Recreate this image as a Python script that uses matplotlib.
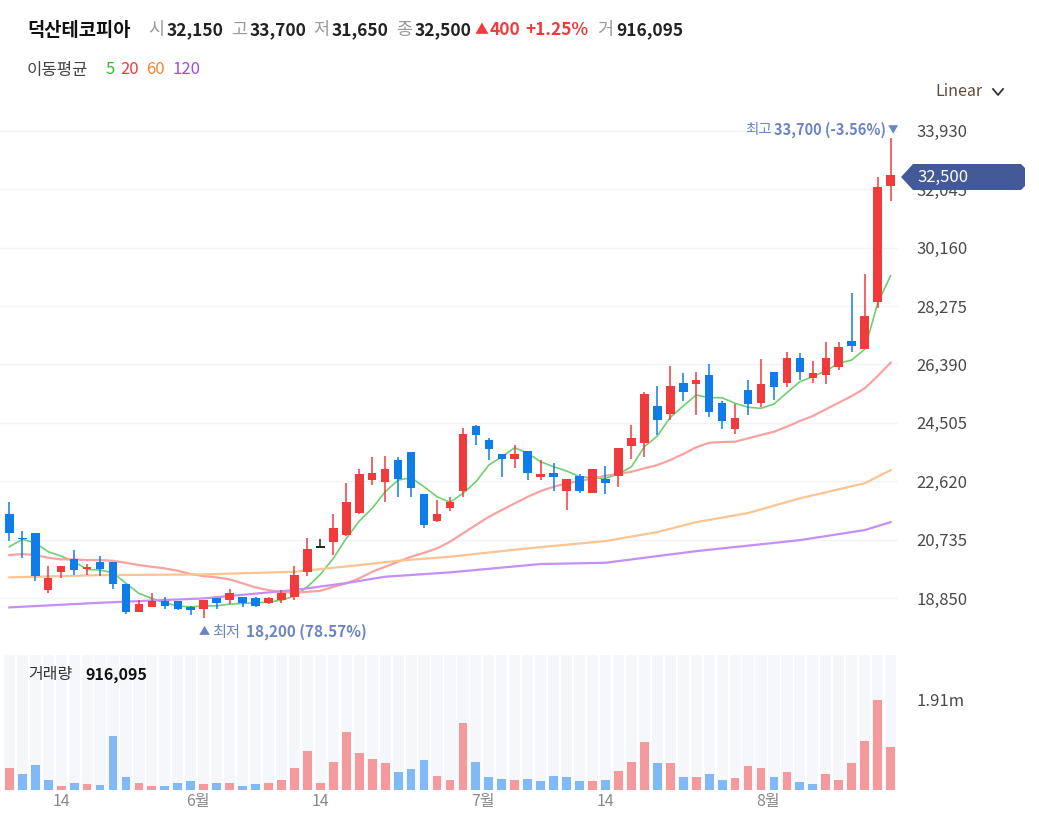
import matplotlib
matplotlib.use('Agg')
import matplotlib.pyplot as plt
import numpy as np
from matplotlib.patches import Polygon
from matplotlib.lines import Line2D
from matplotlib.transforms import ScaledTranslation

plt.rcParams['font.family'] = ['Noto Sans CJK KR', 'DejaVu Sans']

stock_name = '덕산테코피아'

# 일봉 데이터
opens = [21550, 20800, 20950, 19100, 19700, 20100, 19800, 20000, 20000, 19300,
         18400, 18550, 18750, 18750, 18550, 18500, 18850, 18800, 18900, 18850,
         18700, 18800, 18900, 19700, 20500, 20650, 20900, 21600, 22650, 22600,
         23300, 23550, 22200, 21350, 21750, 22300, 24400, 23950, 23500, 23350,
         23600, 22750, 22900, 22300, 22800, 22250, 22700, 22800, 23750, 23850,
         25050, 24800, 25800, 25750, 26050, 25150, 24300, 25550, 25150, 26150,
         25800, 26600, 25950, 26050, 26300, 27150, 26900, 28400, 32150]
highs = [21950, 21000, 20950, 19900, 19900, 20400, 19950, 20200, 20000, 19300,
         18800, 19000, 18900, 18750, 18600, 18800, 18850, 19150, 18900, 18900,
         18900, 19100, 19900, 20800, 20750, 21550, 22550, 23000, 23400, 23450,
         23400, 23550, 22200, 22000, 22100, 24350, 24450, 24000, 23500, 23800,
         23600, 23300, 23200, 22700, 22850, 23000, 23100, 23700, 24450, 25500,
         25700, 26350, 26100, 26150, 26400, 25200, 25100, 25900, 26550, 26150,
         26800, 26750, 26500, 27100, 27100, 28700, 29300, 32450, 33700]
lows = [20700, 20150, 19400, 19000, 19500, 19600, 19600, 19550, 19150, 18350,
        18400, 18550, 18500, 18450, 18300, 18200, 18500, 18650, 18550, 18550,
        18650, 18700, 18800, 19550, 20500, 20250, 20850, 21550, 22500, 21950,
        22100, 22100, 21100, 21300, 21650, 22100, 23800, 23300, 22750, 23050,
        22650, 22650, 22300, 21700, 22250, 22250, 22200, 22450, 23350, 23400,
        24100, 24600, 25200, 24750, 24700, 24300, 24150, 24750, 25000, 25250,
        25650, 25900, 25800, 25750, 26200, 26800, 26900, 28200, 31650]
closes = [20950, 20750, 19550, 19500, 19900, 19750, 19850, 19800, 19300, 18400,
          18650, 18750, 18600, 18500, 18450, 18800, 18700, 19000, 18700, 18600,
          18850, 19000, 19600, 20450, 20500, 21100, 21950, 22850, 22900, 23000,
          22700, 22400, 21200, 21550, 21950, 24150, 24100, 23650, 23350, 23500,
          22900, 22850, 22750, 22700, 22300, 23000, 22550, 23700, 24000, 25450,
          24600, 25700, 25500, 25900, 24850, 24550, 24650, 25100, 25750, 25650,
          26600, 26150, 26100, 26600, 26950, 27000, 27950, 32100, 32500]
volumes = [467000, 339600, 530600, 212200, 84900, 154900, 121000, 112500, 1146000, 275900,
           154900, 84900, 84900, 154900, 184600, 121000, 154900, 154900, 84900, 121000,
           154900, 212200, 466900, 821300, 154900, 594200, 1230900, 791600, 657900, 566600,
           375600, 439300, 630300, 303500, 212200, 1428200, 594200, 275900, 239800, 212200,
           239800, 184600, 303500, 275900, 184600, 184600, 212200, 403200, 594200, 1012300,
           566600, 566600, 282300, 282300, 339600, 212200, 248300, 503000, 473300, 282300,
           375600, 176100, 121000, 339600, 212200, 566600, 1046200, 1910000, 916095]

# 이동평균선
ma5 = [20506, 20745, 20635, 20345, 20206, 20022, 19776, 19754, 19667, 19325,
       19002, 18840, 18698, 18592, 18569, 18592, 18601, 18656, 18679, 18698,
       18721, 18785, 18915, 19215, 19615, 20132, 20777, 21336, 21746, 22281,
       22659, 22733, 22443, 22120, 21939, 22230, 22604, 23143, 23411, 23702,
       23521, 23250, 23088, 22950, 22766, 22733, 22714, 22853, 23088, 23734,
       24079, 24683, 25048, 25403, 25316, 25316, 25135, 25006, 24974, 25112,
       25477, 25832, 25994, 26187, 26426, 26533, 26878, 28363, 29254]
ma20 = [20238, 20270, 20238, 20151, 20099, 20099, 20077, 20077, 20054, 19989,
        19915, 19860, 19809, 19731, 19625, 19560, 19518, 19454, 19325, 19195,
        19108, 19053, 19021, 19053, 19086, 19215, 19325, 19486, 19699, 19860,
        20022, 20183, 20312, 20454, 20667, 20939, 21206, 21474, 21691, 21907,
        22120, 22304, 22443, 22553, 22627, 22714, 22798, 22853, 22927, 23037,
        23143, 23305, 23498, 23715, 23863, 23886, 23895, 24005, 24112, 24218,
        24380, 24564, 24725, 24941, 25154, 25371, 25619, 26016, 26445]
ma60_idx = [0, 7, 15, 22, 27, 30, 34, 40, 46, 50, 53, 57, 61, 66, 68]
ma60 = [19520, 19590, 19615, 19700, 19915, 20055, 20185, 20455, 20690, 20980,
        21300, 21595, 22070, 22555, 22980]
ma120_idx = [0, 7, 15, 22, 26, 29, 34, 41, 46, 53, 61, 66, 68]
ma120 = [18550, 18700, 18840, 19110, 19335, 19540, 19680, 19950, 19990, 20365,
         20720, 21045, 21300]

price_ticks = [18850, 20735, 22620, 24505, 26390, 28275, 30160, 32045, 33930]
date_tick_idx = [4, 15, 24, 37, 46, 59]
date_tick_labels = ['14', '6월', '14', '7월', '14', '8월']

UP = '#f03a3c'
DOWN = '#0f7de9'
FLAT = '#222222'
W, H = 1039, 814


def px(x, y):
    return x / W, 1 - y / H


fig = plt.figure(figsize=(W / 100, H / 100), dpi=100)
fig.patch.set_facecolor('white')

ax = fig.add_axes([0, 1 - 648 / H, 898 / W, (648 - 105) / H])
vax = fig.add_axes([0, 1 - 790 / H, 898 / W, (790 - 655) / H], sharex=ax)

x = np.arange(len(closes))
o = np.array(opens)
c = np.array(closes)

# 캔들
for i in x:
    if c[i] > o[i]:
        col = UP
    elif c[i] < o[i]:
        col = DOWN
    else:
        col = FLAT
    ax.vlines(i, lows[i], highs[i], color=col, lw=1.1, zorder=3)
    if c[i] == o[i]:
        ax.hlines(o[i], i - 0.33, i + 0.33, color=col, lw=1.4, zorder=3)
    else:
        ax.bar(i, max(abs(c[i] - o[i]), 40), bottom=min(o[i], c[i]), width=0.66,
               color=col, zorder=3)

# 이동평균선
ax.plot(x, ma5, color='#6fd06f', lw=1.2, zorder=2)
ax.plot(x, ma20, color='#f9a2a2', lw=1.6, zorder=2)
ax.plot(ma60_idx, ma60, color='#fbc491', lw=1.6, zorder=2)
ax.plot(ma120_idx, ma120, color='#c490f7', lw=1.6, zorder=2)

ax.set_xlim(-0.72, 68.57)
ax.set_ylim(17240, 34760)
ax.set_yticks(price_ticks)
ax.set_yticklabels([f'{t:,}' for t in price_ticks])
ax.yaxis.tick_right()
ax.tick_params(axis='y', length=0, pad=13.5, labelsize=12, labelcolor='#4a4a4a')
ax.tick_params(axis='x', length=0, labelbottom=False)
ax.grid(axis='y', color='#f1f3f7', lw=1)
ax.set_axisbelow(True)
for s in ax.spines.values():
    s.set_visible(False)

# 거래량
prev = np.r_[c[0] - 1, c[:-1]]
vol_cols = ['#f4999c' if c[i] >= prev[i] else '#80b9f6' for i in x]
vtop = max(volumes) * 1.5
vax.bar(x, vtop, width=0.86, color='#f5f7fb', zorder=0)
vax.bar(x, volumes, width=0.68, color=vol_cols, zorder=2)
vax.set_ylim(0, vtop)
vax.set_yticks([max(volumes)])
vax.set_yticklabels([f'{max(volumes) / 1e6:.2f}m'])
vax.yaxis.tick_right()
vax.tick_params(axis='y', length=0, pad=13.5, labelsize=12, labelcolor='#4a4a4a')
vax.set_xticks(date_tick_idx)
vax.set_xticklabels(date_tick_labels)
vax.tick_params(axis='x', length=0, pad=2.5, labelsize=11.5, labelcolor='#8a8a8a')
for lab in vax.get_xticklabels():
    if '월' in lab.get_text():
        lab.set_transform(lab.get_transform() + ScaledTranslation(-0.06, 0, fig.dpi_scale_trans))
for s in vax.spines.values():
    s.set_visible(False)

# 헤더
last = len(closes) - 1
chg = closes[last] - closes[last - 1]
chg_pct = chg / closes[last - 1] * 100
fig.text(*px(27, 30), stock_name, fontsize=13.5, fontweight='bold', color='#111111', va='center')
header = [(148, '시', opens[last]), (231, '고', highs[last]), (313, '저', lows[last]),
          (396, '종', closes[last])]
for hx, lab, val in header:
    fig.text(*px(hx, 30), lab, fontsize=12.5, color='#9a9a9a', va='center')
    fig.text(*px(hx + 19, 30), f'{val:,}', fontsize=12.5, fontweight='bold', color='#222222', va='center')
fig.text(*px(475, 30), '▲', fontsize=10, color=UP, va='center')
fig.text(*px(490, 30), f'{chg:,}', fontsize=12.5, fontweight='bold', color=UP, va='center')
fig.text(*px(525, 30), f'+{chg_pct:.2f}%', fontsize=12.5, fontweight='bold', color=UP, va='center')
fig.text(*px(597, 30), '거', fontsize=12.5, color='#9a9a9a', va='center')
fig.text(*px(616, 30), f'{volumes[last]:,}', fontsize=12.5, fontweight='bold', color='#222222', va='center')

fig.text(*px(27, 70), '이동평균', fontsize=12, color='#444444', va='center')
for mx, lab, col in [(106, '5', '#2cbf2c'), (120, '20', '#f23c3c'),
                     (146, '60', '#f4862c'), (172, '120', '#9b4cf4')]:
    fig.text(*px(mx, 70), lab, fontsize=12, color=col, va='center')

fig.text(*px(935, 92), 'Linear', fontsize=11.5, color='#5e4a3a', va='center')
fig.add_artist(Line2D([993 / W, 998 / W, 1003 / W], [1 - 89 / H, 1 - 95 / H, 1 - 89 / H],
                      color='#333333', lw=1.3))

# 최고/최저 표시
hi = max(highs)
lo = min(lows)
hi_pct = (closes[last] - hi) / hi * 100
lo_pct = (closes[last] - lo) / lo * 100
mark = '#6b84c2'
fig.text(*px(745, 130), '최고', fontsize=10.5, color=mark, va='center')
fig.text(*px(774, 130), f'{hi:,} ({hi_pct:.2f}%)', fontsize=10.5, fontweight='bold', color=mark, va='center')
fig.text(*px(898, 130), '▼', fontsize=7.5, color=mark, va='center', ha='right')
fig.text(*px(199, 632), '▲', fontsize=8, color=mark, va='center')
fig.text(*px(212, 632), '최저', fontsize=11, color=mark, va='center')
fig.text(*px(246, 632), f'{lo:,} ({lo_pct:.2f}%)', fontsize=11, fontweight='bold', color=mark, va='center')

# 현재가 태그
tag = [(901, 177), (913, 164), (1021, 164), (1025, 168), (1025, 186), (1021, 190), (913, 190)]
fig.add_artist(Polygon([px(a, b) for a, b in tag], closed=True, transform=fig.transFigure,
                       facecolor='#445a98', edgecolor='none', zorder=5))
fig.text(*px(917, 177), f'{closes[last]:,}', fontsize=12, color='white', va='center', zorder=6)

# 거래량 라벨
fig.text(*px(28, 675), '거래량', fontsize=11.5, color='#333333', va='center', zorder=6)
fig.text(*px(85, 675), f'{volumes[last]:,}', fontsize=11.5, fontweight='bold', color='#111111',
         va='center', zorder=6)

fig.savefig('out.png', dpi=100, facecolor='white')
